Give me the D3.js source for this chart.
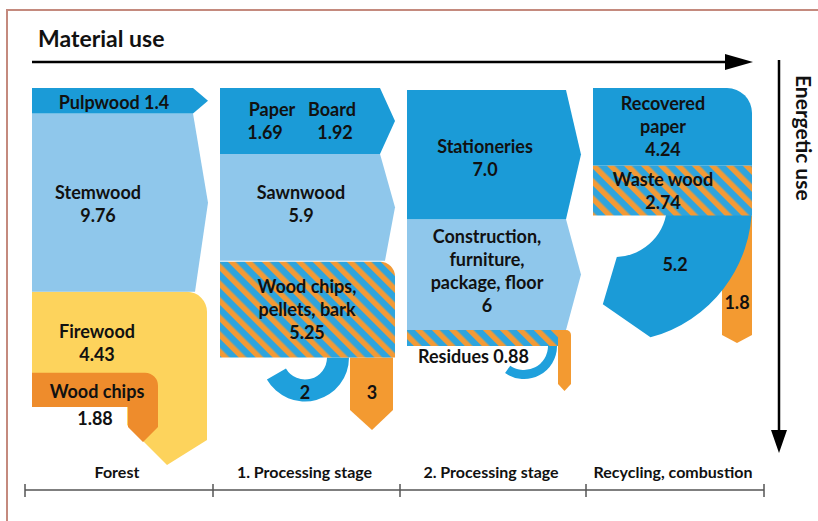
<!DOCTYPE html>
<html><head><meta charset="utf-8">
<script src="https://cdn.jsdelivr.net/npm/d3@7"></script>
<style>
body{margin:0;background:#fff}
text{font-family:Lato,'Open Sans',sans-serif;font-weight:700;fill:#111}
</style>
</head><body>
<svg id="c" width="818" height="521"></svg>
<script>
// ---------- data ----------
const stages = ["Forest", "1. Processing stage", "2. Processing stage", "Recycling, combustion"];
const axisTitles = ["Material use", "Energetic use"];
const forestLabels = ["Pulpwood", "Stemwood", "Firewood", "Wood chips"];
const forestValues = [1.4, 9.76, 4.43, 1.88];
const stage1Labels = ["Paper", "Board", "Sawnwood", "Wood chips, pellets, bark"];
const stage1Values = [1.69, 1.92, 5.9, 5.25];
const stage1Energy = [2, 3];
const stage2Labels = ["Stationeries", "Construction, furniture, package, floor", "Residues"];
const stage2Values = [7.0, 6, 0.88];
const recyclingLabels = ["Recovered paper", "Waste wood"];
const recyclingValues = [4.24, 2.74];
const recyclingEnergy = [5.2, 1.8];

// ---------- colours ----------
const C = {dark:"#1b9bd7", light:"#8fc7eb", yellow:"#fdd35c", orange:"#f39a31", chips:"#ee8c2c", hook:"#1fa0dc"};

const svg = d3.select("#c");
const defs = svg.append("defs");
const pat = defs.append("pattern").attr("id","hatch").attr("patternUnits","userSpaceOnUse")
  .attr("width",12).attr("height",12).attr("patternTransform","rotate(-45)");
pat.append("rect").attr("width",12).attr("height",12).attr("fill","#2ea4dd");
pat.append("rect").attr("width",5.5).attr("height",12).attr("fill","#f29a36");

// ---------- scales ----------
const xStage = d3.scaleLinear().domain([0,1,2,3,4]).range([25,213,400,586,764]);
const y = d3.scaleLinear().domain([0, d3.sum(forestValues)]).range([88, 407]);
const cum = a => a.reduce((acc,v)=>{acc.push(acc[acc.length-1]+v);return acc;},[0]);
const col = i => ({x0:xStage(i)+7, tip:xStage(i+1)-5, x1:xStage(i+1)-20});

// ---------- frame ----------
svg.append("path").attr("d","M7,521 L7,10 L818,10").attr("fill","none").attr("stroke","#c48a7e").attr("stroke-width",2);

// ---------- helpers ----------
const pent = (x0,x1,tip,y0,y1,x1b) => `M${x0},${y0}L${x1},${y0}L${tip},${(y0+y1)/2}L${x1b??x1},${y1}L${x0},${y1}Z`;
const P = (d,fill) => svg.append("path").attr("d",d).attr("fill",fill);
function label(x, yc, lines, opts={}){
  const lh = opts.lh||23, fs = opts.fs||18;
  const t = svg.append("text").attr("x",x).attr("text-anchor",opts.anchor||"middle").attr("font-size",fs);
  lines.forEach((l,i)=>t.append("tspan").attr("x",x).attr("y",yc + (i-(lines.length-1)/2)*lh).attr("dy","0.35em").text(l));
  return t;
}
function arcBand(cx,cy,R,r,a0,a1o,a1i,tip){
  const pt=(rad,a)=>[cx+rad*Math.cos(a*Math.PI/180), cy+rad*Math.sin(a*Math.PI/180)];
  const o0=pt(R,a0), o1=pt(R,a1o), i1=pt(r,a1i), i0=pt(r,a0);
  const lgO = (a1o-a0)>180?1:0, lgI=(a1i-a0)>180?1:0;
  let d=`M${o0}A${R},${R} 0 ${lgO} 1 ${o1}`;
  if(tip) d+=`L${pt(tip[0],tip[1])}`;
  d+=`L${i1}A${r},${r} 0 ${lgI} 0 ${i0}Z`;
  return d;
}

// ---------- column 1: Forest ----------
{
  const c = col(0), s = cum(forestValues);
  const yF = y(s[2]), yC = y(s[3]), yE = y(s[4]);
  const xr = c.tip-1;
  P(`M${c.x0},${yF}L${xr-20},${yF}A20,20 0 0 1 ${xr},${yF+20}L${xr},${yE+33}L${xr-40},${yE+58}L${xr-80},${yE+18}L${xr-80},${yE}L${c.x0},${yE}Z`, C.yellow);
  P(`M${c.x0},${yC}L${c.x0+113},${yC}A13,13 0 0 1 ${c.x0+126},${yC+13}L${c.x0+126},${yE+20}L${c.x0+111},${yE+35}L${c.x0+96},${yE+20}L${c.x0+96},${yE}L${c.x0},${yE}Z`, C.chips);
  P(pent(c.x0,c.x1,c.tip,y(s[1]),y(s[2]),c.x1+2), C.light);
  P(pent(c.x0,c.x1,c.tip,y(s[0]),y(s[1])), C.dark);
  label(114,103,[`${forestLabels[0]} ${forestValues[0]}`]);
  label(98,204,[forestLabels[1], forestValues[1]]);
  label(97,343,[forestLabels[2], forestValues[2]]);
  label(97,392,[forestLabels[3]]);
  label(95,419,[forestValues[3]]);
}

// ---------- column 2: 1. Processing stage ----------
{
  const c = col(1);
  const s = cum([stage1Values[0]+stage1Values[1], stage1Values[2], stage1Values[3]]);
  const yB = y(s[3]);
  P(`M350,${yB}L393,${yB}L393,410L372,430L350,410Z`, C.orange);
  P(arcBand(305,yB,44,22,0,150,150), C.hook);
  P(`M${c.x0},${y(s[2])}L${c.tip-15},${y(s[2])}A15,15 0 0 1 ${c.tip},${y(s[2])+15}L${c.tip},${yB}L${c.x0},${yB}Z`, "url(#hatch)");
  P(pent(c.x0,c.x1,c.tip,y(s[1]),y(s[2])-1,c.x1+5), C.light);
  P(pent(c.x0,c.x1,c.tip,y(s[0]),y(s[1])), C.dark);
  label(272,110,[stage1Labels[0]]); label(332,110,[stage1Labels[1]]);
  label(265,133,[stage1Values[0]]); label(335,133,[stage1Values[1]]);
  label(301,204,[stage1Labels[2], stage1Values[2]]);
  label(307,310,["Wood chips,","pellets, bark", stage1Values[3]]);
  label(305,393,[stage1Energy[0]]); label(372,393,[stage1Energy[1]]);
}

// ---------- column 3: 2. Processing stage ----------
{
  const c = col(2), s = cum(stage2Values);
  // this column is drawn slightly taller in the original: own scale for the two products
  const y3 = d3.scaleLinear().domain([0, s[2]]).range([90, 330]);
  const yR0 = y3(s[2]), yR1 = yR0 + (y(s[3]) - y(s[2]));
  P(arcBand(524,yR1,33,24,0,125,125), C.hook);
  P(`M${c.x0},${yR0}L563,${yR0}L563,${yR1}L${c.x0},${yR1}Z`, "url(#hatch)");
  P(`M558,${yR0}L566,${yR0}A5,5 0 0 1 571,${yR0+5}L571,384L564.5,391L558,384Z`, C.orange);
  P(pent(c.x0,c.x1,c.tip,y3(s[1]),y3(s[2])), C.light);
  P(pent(c.x0,c.x1,c.tip,y3(s[0]),y3(s[1])), C.dark);
  label(485,158,[stage2Labels[0], stage2Values[0].toFixed(1)]);
  label(487,271,["Construction,","furniture,","package, floor", stage2Values[1]]);
  label(418,357,[`${stage2Labels[2]} ${stage2Values[2]}`],{anchor:"start"});
}

// ---------- column 4: Recycling, combustion ----------
{
  const c = col(3), s = cum(recyclingValues);
  const xr = xStage(4)-12;
  const yW = y(s[2]);
  P(`M${xr-30},${yW}L${xr},${yW}L${xr},335L${xr-15},343L${xr-30},335Z`, C.orange);
  P(arcBand(615,205,137,52,0,75,88,[100,97]), C.dark);
  P(`M${c.x0},${y(s[1])}L${xr},${y(s[1])}L${xr},${yW}L${c.x0},${yW}Z`, "url(#hatch)");
  P(`M${c.x0},${y(s[0])}L${xr-25},${y(s[0])}A25,25 0 0 1 ${xr},${y(s[0])+25}L${xr},${y(s[1])}L${c.x0},${y(s[1])}Z`, C.dark);
  label(663,127,["Recovered","paper", recyclingValues[0]]);
  label(663,191,["Waste wood", recyclingValues[1]]);
  label(675,265,[recyclingEnergy[0]]);
  label(737,303,[recyclingEnergy[1]]);
}

// ---------- arrows & titles ----------
svg.append("line").attr("x1",32).attr("x2",730).attr("y1",62).attr("y2",62).attr("stroke","#000").attr("stroke-width",2.5);
P("M725,54L753,62L725,70Z","#000");
svg.append("line").attr("x1",779).attr("x2",779).attr("y1",60).attr("y2",435).attr("stroke","#000").attr("stroke-width",2.5);
P("M771,430L779,453L787,430Z","#000");
svg.append("text").attr("x",38).attr("y",47).attr("font-size",23).text(axisTitles[0]);
svg.append("text").attr("transform","translate(796,75) rotate(90)").attr("font-size",21).text(axisTitles[1]);

// ---------- stage axis ----------
svg.append("line").attr("x1",xStage(0)).attr("x2",xStage(4)).attr("y1",490).attr("y2",490).attr("stroke","#555").attr("stroke-width",1.5);
svg.selectAll("line.tick").data(d3.range(5)).join("line").attr("class","tick")
  .attr("x1",d=>xStage(d)).attr("x2",d=>xStage(d)).attr("y1",484).attr("y2",497).attr("stroke","#555").attr("stroke-width",1.5);
stages.forEach((s,i)=>label((xStage(i)+xStage(i+1))/2 - 2, 472, [s], {fs:16}));
</script>
</body></html>
